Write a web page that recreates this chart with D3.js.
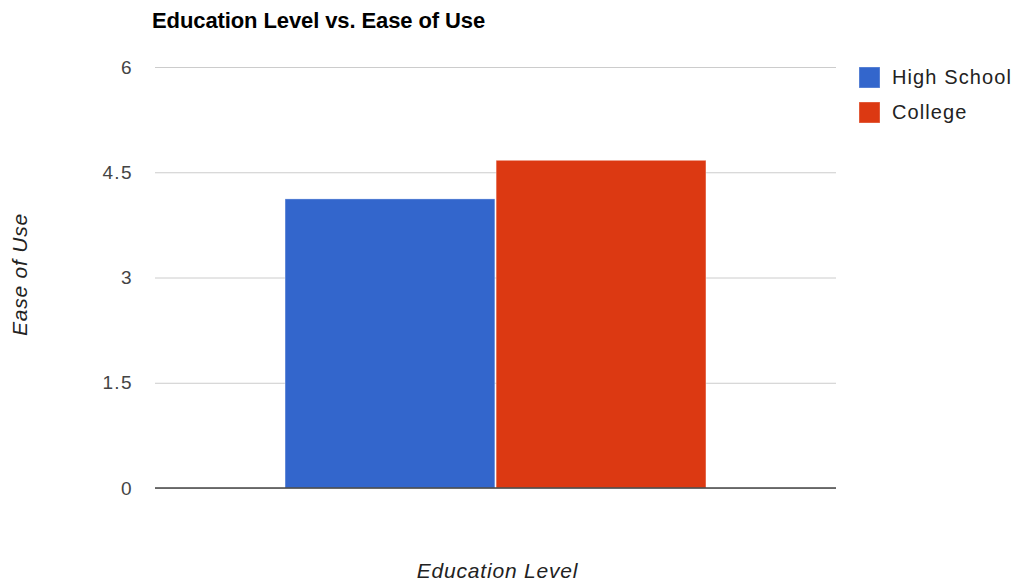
<!DOCTYPE html>
<html>
<head>
<meta charset="utf-8">
<script src="https://cdn.jsdelivr.net/npm/d3@7"></script>
<style>
  html, body { margin: 0; padding: 0; background: #fff; }
  svg { display: block; font-family: "Liberation Sans", Arial, sans-serif; }
</style>
</head>
<body>
<svg id="chart" width="1021" height="586"></svg>
<script>
// Chart data
const categories = ["Education Level"];
const seriesNames = ["High School", "College"];
const seriesColors = ["#3366cc", "#dc3912"];
const highSchoolValues = [4.12];
const collegeValues = [4.67];
const yTickValues = [0, 1.5, 3, 4.5, 6];
const yTickLabels = ["0", "1.5", "3", "4.5", "6"];

const seriesValues = [highSchoolValues, collegeValues];

const svg = d3.select("#chart");
const plot = { left: 155, right: 836, top: 67, bottom: 488 };

const x0 = d3.scaleBand()
  .domain(categories)
  .range([plot.left, plot.right])
  .paddingInner(0)
  .paddingOuter(0.309);

const x1 = d3.scaleBand()
  .domain(seriesNames)
  .range([0, x0.bandwidth()])
  .paddingInner(0.006);

const y = d3.scaleLinear()
  .domain([0, 6])
  .range([plot.bottom, plot.top]);

// Gridlines and tick labels
const yAxis = d3.axisLeft(y)
  .tickValues(yTickValues)
  .tickFormat((d, i) => yTickLabels[i])
  .tickSize(-(plot.right - plot.left))
  .tickPadding(22);

const gy = svg.append("g")
  .attr("transform", `translate(${plot.left},0)`)
  .call(yAxis);
gy.select(".domain").remove();
gy.selectAll(".tick line")
  .attr("stroke", "#cccccc")
  .attr("stroke-width", 1);
gy.selectAll(".tick text")
  .attr("fill", "#444")
  .attr("font-size", 19)
  .attr("font-family", "'Liberation Sans', Arial, sans-serif")
  .attr("letter-spacing", 1.4);

// Bars
const groups = svg.append("g")
  .selectAll("g")
  .data(categories)
  .join("g")
  .attr("transform", d => `translate(${x0(d)},0)`);

groups.selectAll("rect")
  .data((d, ci) => seriesNames.map((s, si) => ({ series: s, value: seriesValues[si][ci], color: seriesColors[si] })))
  .join("rect")
  .attr("x", d => x1(d.series))
  .attr("width", x1.bandwidth())
  .attr("y", d => y(d.value))
  .attr("height", d => y(0) - y(d.value))
  .attr("fill", d => d.color)
  .attr("stroke", "rgba(255,255,255,0.35)")
  .attr("stroke-width", 1);

// Baseline
svg.append("line")
  .attr("x1", plot.left)
  .attr("x2", plot.right)
  .attr("y1", y(0))
  .attr("y2", y(0))
  .attr("stroke", "#444")
  .attr("stroke-width", 1.6);

// Title
svg.append("text")
  .attr("x", 152)
  .attr("y", 28)
  .attr("font-size", 22)
  .attr("font-weight", "bold")
  .attr("fill", "#000")
  .attr("letter-spacing", -0.1)
  .text("Education Level vs. Ease of Use");

// Axis titles
svg.append("text")
  .attr("x", (plot.left + plot.right) / 2 + 2)
  .attr("y", 578)
  .attr("text-anchor", "middle")
  .attr("font-size", 21)
  .attr("font-style", "italic")
  .attr("fill", "#222")
  .attr("letter-spacing", 0.8)
  .text("Education Level");

svg.append("text")
  .attr("transform", `translate(27,${(plot.top + plot.bottom) / 2 - 3}) rotate(-90)`)
  .attr("text-anchor", "middle")
  .attr("font-size", 21)
  .attr("font-style", "italic")
  .attr("fill", "#222")
  .attr("letter-spacing", 0.8)
  .text("Ease of Use");

// Legend
const legend = svg.append("g")
  .selectAll("g")
  .data(seriesNames)
  .join("g")
  .attr("transform", (d, i) => `translate(859,${67 + i * 35})`);

legend.append("rect")
  .attr("width", 21)
  .attr("height", 21)
  .attr("fill", (d, i) => seriesColors[i])
  .attr("stroke", "rgba(255,255,255,0.35)")
  .attr("stroke-width", 1);

legend.append("text")
  .attr("x", 33)
  .attr("y", 17)
  .attr("font-size", 20)
  .attr("fill", "#222")
  .attr("letter-spacing", 1.1)
  .text(d => d);
</script>
</body>
</html>
